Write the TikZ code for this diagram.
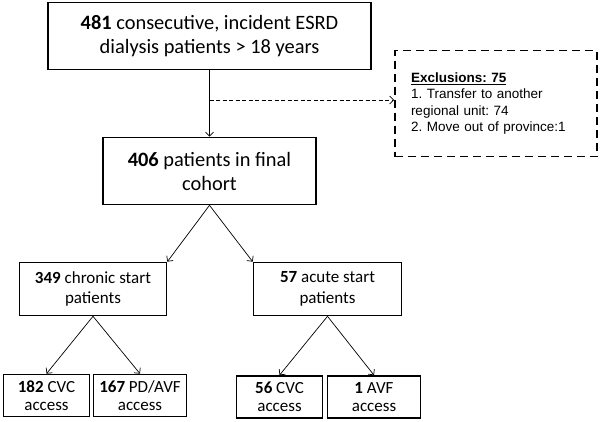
\documentclass[tikz,border=0pt]{standalone}
\usepackage{fontspec}
\setmainfont{Carlito}
\newfontfamily\exclfamily{Liberation Sans}
\usetikzlibrary{arrows.meta}
\frenchspacing

\newcommand{\cohortfont}{\fontsize{20.4}{24}\selectfont}
\newcommand{\startfont}{\fontsize{17}{20.5}\selectfont}
\newcommand{\accessfont}{\fontsize{17}{18.5}\selectfont}
\newcommand{\exclfont}{\exclfamily\fontsize{13.5}{16.3}\selectfont}

\begin{document}
\begin{tikzpicture}[x=1pt,y=-1pt]
  \useasboundingbox (0,0) rectangle (600,421);
  \coordinate (exclusion-split) at (209.5,100);
  \begin{scope}[
    every node/.style={
      draw,
      line width=1.6pt,
      align=center,
      inner sep=0pt,
      font=\cohortfont,
    },
    ]
    \node[minimum width=323pt, minimum height=67pt] (incident) at (209.5,36)
      {\textbf{481} consecutive, incident ESRD\\dialysis patients > 18 years};
    \node[minimum width=213pt, minimum height=67pt] (cohort) at (209.5,171)
      {\textbf{406} patients in final\\cohort};
    \node[minimum width=202pt, minimum height=106pt, dashed,
      dash pattern=on 8pt off 5pt, font=\exclfont, align=left,
      text width=170pt] (exclusions) at (496,103.5)
      {\underline{\textbf{Exclusions: 75}}\\
       1. Transfer to another\\
       regional unit: 74\\
       2. Move out of province:1};
  \end{scope}
  \begin{scope}[
    every node/.style={
      draw,
      line width=1.6pt,
      align=center,
      inner sep=0pt,
      font=\startfont,
      minimum height=53pt,
    },
    ]
    \node[minimum width=147pt] (chronic) at (93,289)
      {\textbf{349} chronic start\\patients};
    \node[minimum width=148pt] (acute) at (327.5,289)
      {\textbf{57} acute start\\patients};
  \end{scope}
  \begin{scope}[
    every node/.style={
      draw,
      line width=1.6pt,
      align=center,
      inner sep=0pt,
      font=\accessfont,
      minimum height=42pt,
    },
    ]
    \node[minimum width=86pt] (chronic-cvc) at (46.5,395.5)
      {\textbf{182} CVC\\access};
    \node[minimum width=93pt] (chronic-avf) at (140,395.5)
      {\textbf{167} PD/AVF\\access};
    \node[minimum width=86pt] (acute-cvc) at (279.5,397)
      {\textbf{56} CVC\\access};
    \node[minimum width=93pt] (acute-avf) at (374,397)
      {\textbf{1} AVF\\access};
  \end{scope}
  \begin{scope}[
    every edge/.style={draw,line width=0.7pt,-{Straight Barb[length=4pt,width=8pt]}},
    ]
    \path
    (incident) edge (cohort)
    (cohort.south)  edge (chronic.north east)
    (cohort.south)  edge (acute.north west)
    (chronic.south) edge (chronic-cvc.north)
    (chronic.south) edge (chronic-avf.north)
    (acute.south)   edge (acute-cvc.north)
    (acute.south)   edge (acute-avf.north)
    (exclusion-split) edge[dash pattern=on 4pt off 2.5pt]
      (exclusions.west |- exclusion-split);
  \end{scope}
\end{tikzpicture}
\end{document}
